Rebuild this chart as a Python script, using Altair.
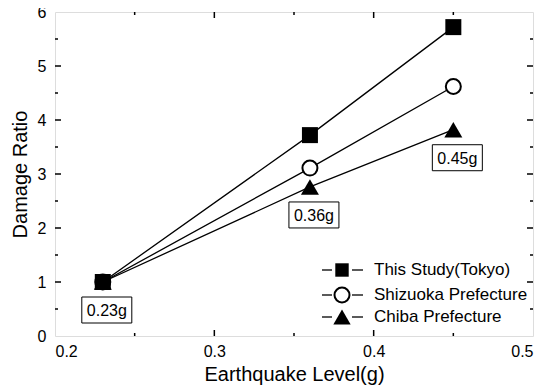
import altair as alt
import pandas as pd

# ---- data ----
levels = [0.23, 0.36, 0.45]
series_names = ["This Study(Tokyo)", "Shizuoka Prefecture", "Chiba Prefecture"]
tokyo = [1.0, 3.72, 5.72]
shizuoka = [1.0, 3.11, 4.62]
chiba = [1.0, 2.76, 3.82]
level_labels = ["0.23g", "0.36g", "0.45g"]

x_major = [0.2, 0.3, 0.4, 0.5]
x_minor = [0.25, 0.35, 0.45]
y_major = [0, 1, 2, 3, 4, 5, 6]
y_minor = [0.5, 1.5, 2.5, 3.5, 4.5, 5.5]

W, H = 478, 324
FONT = "Liberation Sans"

rows = []
for name, vals in zip(series_names, [tokyo, shizuoka, chiba]):
    for lv, v in zip(levels, vals):
        rows.append({"series": name, "level": lv, "ratio": v})
df = pd.DataFrame(rows)
lab = pd.DataFrame({"level": levels, "ratio": chiba, "label": level_labels})

xs = alt.Scale(domain=[0.2, 0.5], nice=False, zero=False)
ys = alt.Scale(domain=[0, 6], nice=False, zero=False)

xenc = alt.X("level:Q", scale=xs, axis=alt.Axis(
    values=x_major, format=".1f", ticks=False, domain=False, grid=False,
    labelFont=FONT, labelFontSize=16, labelColor="black", labelPadding=7,
    title="Earthquake Level(g)", titleFont=FONT, titleFontSize=20,
    titleFontWeight="normal", titleColor="black", titleY=28, titleBaseline="top"))
yenc = alt.Y("ratio:Q", scale=ys, axis=alt.Axis(
    values=y_major, format="d", ticks=False, domain=False, grid=False,
    labelFont=FONT, labelFontSize=16, labelColor="black", labelPadding=9,
    title="Damage Ratio", titleFont=FONT, titleFontSize=20,
    titleFontWeight="normal", titleColor="black", titleX=-35, titleY=H / 2,
    titleAngle=-90, titleAlign="center", titleBaseline="middle"))

lines = alt.Chart(df).mark_line(color="black", strokeWidth=1.3).encode(
    x=xenc, y=yenc, detail="series:N")

def pts(name, **kw):
    return alt.Chart(df[df.series == name]).mark_point(opacity=1, **kw).encode(
        x=alt.X("level:Q", scale=xs), y=alt.Y("ratio:Q", scale=ys))

sq = pts(series_names[0], shape="square", filled=True, color="black", size=256)
ci = pts(series_names[1], shape="circle", fill="white", stroke="black",
         strokeWidth=2, size=225)
tr = pts(series_names[2], shape="triangle-up", filled=True, color="black", size=324)

box_path = "M-1,-0.52 L1,-0.52 L1,0.52 L-1,0.52 Z"
boxes = alt.Chart(lab).mark_point(
    shape=box_path, size=2500, fill="white", stroke="black", strokeWidth=1,
    opacity=1, xOffset=4, yOffset=28).encode(
    x=alt.X("level:Q", scale=xs), y=alt.Y("ratio:Q", scale=ys))
texts = alt.Chart(lab).mark_text(
    font=FONT, fontSize=16, color="black", xOffset=4, yOffset=29,
    align="center", baseline="middle").encode(
    x=alt.X("level:Q", scale=xs), y=alt.Y("ratio:Q", scale=ys), text="label:N")

# inward ticks on all four sides
def xticks(vals, ln):
    d = pd.DataFrame({"v": vals})
    b = alt.Chart(d).mark_rule(color="black", strokeWidth=1.5).encode(
        x=alt.X("v:Q", scale=xs), y=alt.value(H), y2=alt.value(H - ln))
    t = alt.Chart(d).mark_rule(color="black", strokeWidth=1.5).encode(
        x=alt.X("v:Q", scale=xs), y=alt.value(0), y2=alt.value(ln))
    return b + t

def yticks(vals, ln):
    d = pd.DataFrame({"v": vals})
    l = alt.Chart(d).mark_rule(color="black", strokeWidth=1.5).encode(
        y=alt.Y("v:Q", scale=ys), x=alt.value(0), x2=alt.value(ln))
    r = alt.Chart(d).mark_rule(color="black", strokeWidth=1.5).encode(
        y=alt.Y("v:Q", scale=ys), x=alt.value(W), x2=alt.value(W - ln))
    return l + r

ticks = xticks(x_major[1:-1], 6) + xticks(x_minor, 3) + yticks(y_major[1:-1], 6) + yticks(y_minor, 3)

# manual legend
leg_layers = []
leg_y = [258, 283, 305]
mk = [dict(shape="square", filled=True, color="black", size=180),
      dict(shape="circle", fill="white", stroke="black", strokeWidth=2, size=225),
      dict(shape="triangle-up", filled=True, color="black", size=300)]
for name, yy, m in zip(series_names, leg_y, mk):
    d = pd.DataFrame({"series": [name]})
    leg_layers.append(alt.Chart(d).mark_rule(color="black", strokeWidth=1.3).encode(
        x=alt.value(267), x2=alt.value(277), y=alt.value(yy)))
    leg_layers.append(alt.Chart(d).mark_rule(color="black", strokeWidth=1.3).encode(
        x=alt.value(297), x2=alt.value(308), y=alt.value(yy)))
    leg_layers.append(alt.Chart(d).mark_point(opacity=1, **m).encode(
        x=alt.value(287), y=alt.value(yy)))
    leg_layers.append(alt.Chart(d).mark_text(
        font=FONT, fontSize=17, color="black", align="left", baseline="middle").encode(
        x=alt.value(319), y=alt.value(yy), text="series:N"))

chart = alt.layer(lines, ticks, ci, sq, tr, boxes, texts, *leg_layers).properties(
    width=W, height=H,
    autosize=alt.AutoSizeParams(type="none"),
    padding={"left": 47, "top": 4, "right": 9, "bottom": 49},
).configure_view(stroke="black", strokeWidth=2).configure(background="white")

chart.save("out.html", embed_options={"renderer": "svg", "actions": False})
